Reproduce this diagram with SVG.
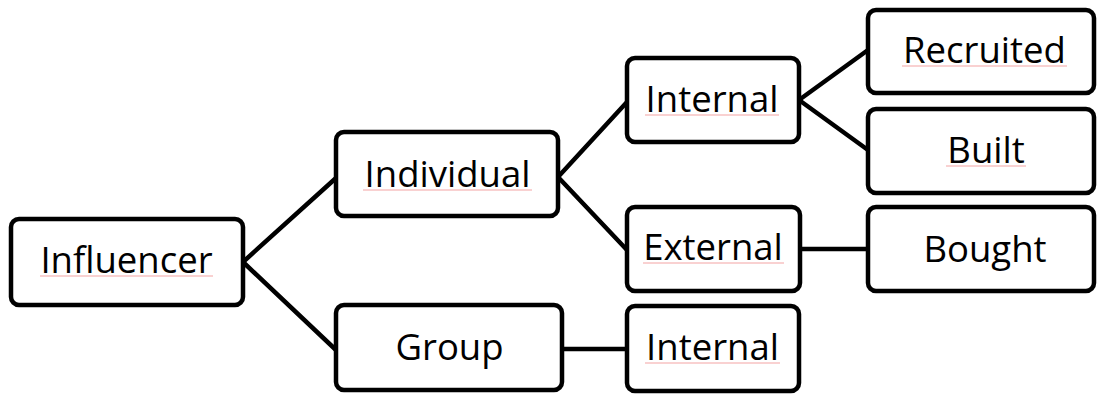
<svg xmlns="http://www.w3.org/2000/svg" width="1097" height="394" viewBox="0 0 1097 394">
<style>
.box{fill:#fff;stroke:#000;stroke-width:4.5}
.lbl{font-family:"Open Sans","Liberation Sans",sans-serif;font-size:36.5px;fill:#000;text-anchor:middle}
.sq{stroke:#f3a3a3;stroke-width:1.2;fill:none}
.con{stroke:#000;stroke-width:4.5;fill:none;stroke-linecap:round}
</style>
<rect width="1097" height="394" fill="#fff"/>
<g id="connectors">
<line class="con" x1="243" y1="262" x2="336" y2="178"/>
<line class="con" x1="243" y1="262" x2="336" y2="350"/>
<line class="con" x1="558" y1="177" x2="627" y2="102"/>
<line class="con" x1="558" y1="177" x2="627" y2="250"/>
<line class="con" x1="799" y1="100" x2="868" y2="50"/>
<line class="con" x1="799" y1="100" x2="868" y2="150"/>
<line class="con" x1="800" y1="249" x2="868" y2="249"/>
<line class="con" x1="562" y1="349" x2="627" y2="349"/>
</g>
<g id="influencer">
<rect class="box" x="11" y="219" width="232" height="86" rx="8"/>
<text class="lbl" x="126.5" y="273">Influencer</text>
<line class="sq" x1="40" y1="276" x2="213" y2="276"/>
</g>
<g id="individual">
<rect class="box" x="336" y="132" width="222" height="84" rx="8"/>
<text class="lbl" x="447.5" y="187">Individual</text>
<line class="sq" x1="363" y1="190" x2="532" y2="190"/>
</g>
<g id="group">
<rect class="box" x="336" y="305" width="226" height="85" rx="8"/>
<text class="lbl" x="449.5" y="360">Group</text>
</g>
<g id="internal-individual">
<rect class="box" x="627" y="58" width="172" height="84" rx="8"/>
<text class="lbl" x="712" y="112">Internal</text>
<line class="sq" x1="645" y1="115" x2="779" y2="115"/>
</g>
<g id="external">
<rect class="box" x="627" y="207" width="173" height="84" rx="8"/>
<text class="lbl" x="713" y="260">External</text>
<line class="sq" x1="643" y1="263" x2="784" y2="263"/>
</g>
<g id="internal-group">
<rect class="box" x="627" y="306" width="172" height="85" rx="8"/>
<text class="lbl" x="712.5" y="360">Internal</text>
<line class="sq" x1="645" y1="363" x2="780" y2="363"/>
</g>
<g id="recruited">
<rect class="box" x="868" y="10" width="226" height="83" rx="8"/>
<text class="lbl" x="984.5" y="63">Recruited</text>
<line class="sq" x1="902" y1="66" x2="1067" y2="66"/>
</g>
<g id="built">
<rect class="box" x="868" y="109" width="226" height="84" rx="8"/>
<text class="lbl" x="986" y="163">Built</text>
<line class="sq" x1="946" y1="166" x2="1026" y2="166"/>
</g>
<g id="bought">
<rect class="box" x="868" y="207" width="226" height="84" rx="8"/>
<text class="lbl" x="985" y="262">Bought</text>
</g>
</svg>
